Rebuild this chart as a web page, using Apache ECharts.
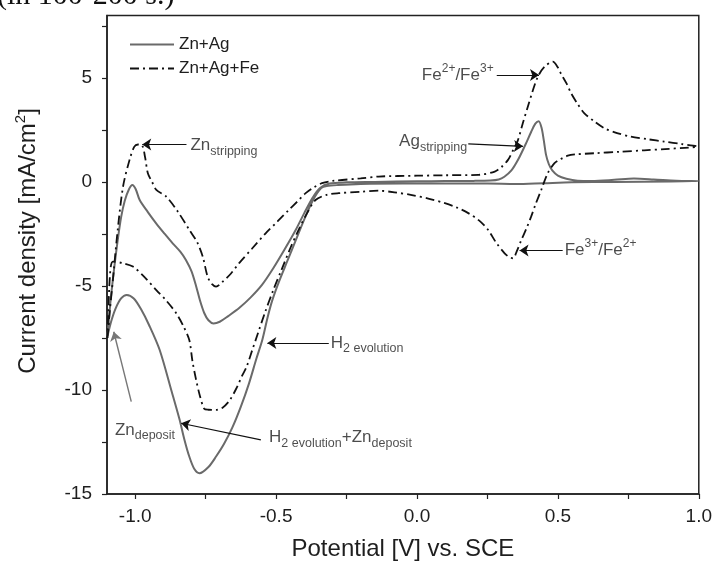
<!DOCTYPE html>
<html><head><meta charset="utf-8">
<script src="https://cdn.jsdelivr.net/npm/echarts@6/dist/echarts.min.js"></script>
<style>html,body{margin:0;padding:0;background:#fff}#c{width:715px;height:567px}</style>
</head><body><div id="c"></div>
<script>
const seriesNames = ['Zn+Ag', 'Zn+Ag+Fe'];

// Zn+Ag cyclic voltammogram (forward then return scan)
const potentialZnAg = [
  -1.098,-1.088,-1.075,-1.062,-1.05,-1.037,-1.022,-1.01,-0.998,-0.984,-0.955,-0.925,-0.895,-0.867,-0.84,-0.82,-0.80,-0.784,-0.77,-0.755,-0.74,-0.722,-0.70,-0.67,-0.63,-0.59,-0.55,-0.51,-0.47,-0.43,-0.40,-0.37,-0.345,-0.31,-0.25,-0.15,0.0,0.1,0.2,0.26,0.29,0.31,0.335,0.36,0.385,0.405,0.42,0.432,0.442,0.45,0.458,0.468,0.48,0.50,0.53,0.57,0.62,0.70,0.77,0.84,0.92,1.0,
  0.9,0.7,0.55,0.45,0.35,0.25,0.1,-0.05,-0.2,-0.28,-0.32,-0.34,-0.37,-0.40,-0.43,-0.46,-0.49,-0.513,-0.53,-0.549,-0.57,-0.596,-0.625,-0.655,-0.685,-0.713,-0.74,-0.772,-0.79,-0.808,-0.825,-0.843,-0.87,-0.913,-0.95,-0.98,-1.005,-1.03,-1.05,-1.07,-1.085,-1.098
];
const currentZnAg = [
  -7.4,-5.8,-4.2,-2.8,-1.7,-0.9,-0.35,-0.15,-0.35,-0.87,-1.45,-2.0,-2.5,-2.95,-3.35,-3.75,-4.3,-5.0,-5.7,-6.3,-6.65,-6.8,-6.72,-6.45,-6.05,-5.55,-4.95,-4.15,-3.25,-2.3,-1.5,-0.75,-0.3,-0.08,-0.02,0.0,0.03,0.04,0.05,0.07,0.12,0.25,0.55,1.1,1.8,2.4,2.8,2.92,2.6,2.0,1.3,0.85,0.55,0.3,0.15,0.06,0.05,0.1,0.16,0.12,0.06,0.04,
  0.02,0.0,-0.02,-0.06,-0.1,-0.08,-0.08,-0.08,-0.1,-0.15,-0.2,-0.3,-0.9,-1.8,-2.8,-3.8,-4.8,-5.67,-6.5,-7.6,-8.5,-9.68,-10.8,-11.8,-12.6,-13.2,-13.7,-14.0,-13.8,-13.2,-12.4,-11.4,-10.1,-8.08,-6.9,-6.1,-5.6,-5.43,-5.6,-6.1,-6.7,-7.4
];

// Zn+Ag+Fe cyclic voltammogram (forward then return scan)
const potentialZnAgFe = [
  -1.098,-1.09,-1.079,-1.062,-1.043,-1.02,-1.003,-0.99,-0.975,-0.965,-0.955,-0.94,-0.925,-0.89,-0.85,-0.808,-0.78,-0.76,-0.743,-0.728,-0.713,-0.69,-0.66,-0.631,-0.585,-0.537,-0.495,-0.455,-0.425,-0.395,-0.365,-0.337,-0.30,-0.2,-0.136,0.0,0.1,0.218,0.276,0.30,0.323,0.34,0.358,0.375,0.393,0.41,0.429,0.453,0.482,0.50,0.511,0.53,0.547,0.57,0.594,0.63,0.665,0.71,0.759,0.82,0.877,0.94,0.995,
  0.95,0.88,0.806,0.72,0.629,0.56,0.535,0.51,0.488,0.464,0.441,0.42,0.405,0.388,0.37,0.355,0.341,0.326,0.311,0.28,0.252,0.22,0.182,0.14,0.099,0.04,-0.018,-0.08,-0.136,-0.2,-0.278,-0.32,-0.36,-0.39,-0.42,-0.45,-0.48,-0.51,-0.54,-0.565,-0.585,-0.605,-0.62,-0.64,-0.665,-0.69,-0.713,-0.74,-0.755,-0.77,-0.784,-0.797,-0.808,-0.83,-0.855,-0.89,-0.925,-0.965,-1.008,-1.045,-1.079,-1.09,-1.098
];
const currentZnAgFe = [
  -7.5,-6.2,-4.7,-2.3,-0.22,1.06,1.7,1.8,1.75,1.2,0.42,0.0,-0.38,-0.7,-1.4,-2.3,-2.9,-3.6,-4.55,-4.9,-5.03,-4.8,-4.4,-3.9,-3.2,-2.47,-1.9,-1.35,-0.95,-0.54,-0.25,-0.06,0.05,0.17,0.26,0.3,0.32,0.34,0.5,0.72,1.06,1.5,2.0,2.8,3.6,4.35,5.06,5.54,5.78,5.5,5.2,4.75,4.26,3.75,3.3,2.9,2.58,2.35,2.18,2.05,1.94,1.82,1.7,
  1.64,1.58,1.52,1.45,1.38,1.32,1.26,1.1,0.9,0.42,-0.38,-1.1,-1.67,-2.25,-2.8,-3.3,-3.67,-3.6,-3.43,-2.9,-2.3,-1.85,-1.5,-1.22,-1.02,-0.8,-0.63,-0.5,-0.42,-0.47,-0.54,-0.62,-0.87,-1.5,-2.3,-3.2,-4.2,-5.2,-6.3,-7.3,-8.1,-8.9,-9.3,-9.9,-10.5,-10.85,-10.96,-10.95,-10.9,-10.3,-9.5,-8.6,-7.6,-6.9,-6.3,-5.7,-5.2,-4.6,-4.07,-3.9,-3.83,-4.6,-7.5
];

// Axis ticks and labels
const xTickValues = [-1.0,-0.75,-0.5,-0.25,0.0,0.25,0.5,0.75,1.0];
const xLabelValues = [-1.0,-0.5,0.0,0.5,1.0];
const yTickValues = [-15,-12.5,-10,-7.5,-5,-2.5,0,2.5,5,7.5];
const yLabelValues = [-15,-10,-5,0,5];

// Annotations (data coordinates): arrow from -> to, and text anchor
const annotationTexts = [
  '{m|Zn}{sub|stripping}',
  '{m|Fe}{sup|2+}{m|/Fe}{sup|3+}',
  '{m|Ag}{sub|stripping}',
  '{m|Fe}{sup|3+}{m|/Fe}{sup|2+}',
  '{m|H}{sub|2 evolution}',
  '{m|H}{sub|2 evolution}{m|+Zn}{sub|deposit}',
  '{m|Zn}{sub|deposit}'
];
const annotationTextAt = [[-0.804,1.75],[0.272,5.14],[0.178,1.94],[0.524,-3.30],[-0.306,-7.74],[-0.525,-12.27],[-1.072,-11.92]];
const annotationSide = ['right','left','left','right','right','right','right'];
const arrowFrom = [[-0.818,1.80],[0.283,5.14],[0.182,1.83],[0.517,-3.30],[-0.313,-7.74],[-0.554,-12.40]];
const arrowTo   = [[-0.975,1.80],[0.433,5.14],[0.376,1.71],[0.364,-3.30],[-0.531,-7.74],[-0.837,-11.60]];
const grayArrowFrom = [[-1.014,-10.56]];
const grayArrowTo = [[-1.076,-7.20]];

const FONT = 'Liberation Sans';
const TXT = '#1e1e1e';
const zip = (xs, ys) => xs.map((x, i) => [x, ys[i]]);

const chart = echarts.init(document.getElementById('c'), null, {renderer: 'canvas'});
const rich = {
  m: {fontSize: 17, lineHeight: 25, fontFamily: FONT, color: TXT},
  sub: {fontSize: 12.5, lineHeight: 12.5, verticalAlign: 'bottom', fontFamily: FONT, color: TXT},
  sup: {fontSize: 12, lineHeight: 12, verticalAlign: 'top', fontFamily: FONT, color: TXT}
};

chart.setOption({
  animation: false,
  backgroundColor: '#fff',
  grid: {left: 107, right: 13, top: 15.5, bottom: 73, show: true, borderColor: '#222', borderWidth: 1.5, backgroundColor: 'transparent'},
  legend: {
    data: seriesNames, orient: 'vertical', left: 124, top: 31, itemWidth: 44, itemHeight: 14, itemGap: 7,
    itemStyle: {opacity: 0},
    textStyle: {fontSize: 17, color: TXT, fontFamily: FONT}
  },
  xAxis: {
    type: 'value', min: -1.1, max: 1.0,
    axisLine: {onZero: false, lineStyle: {color: '#222', width: 1.5}},
    axisTick: {show: true, inside: false, length: 5, customValues: xTickValues, lineStyle: {color: '#222', width: 1.2}},
    axisLabel: {customValues: xLabelValues, formatter: v => v.toFixed(1), fontSize: 19, color: TXT, fontFamily: FONT, margin: 13},
    splitLine: {show: false},
    name: 'Potential [V] vs. SCE', nameLocation: 'middle', nameGap: 43,
    nameTextStyle: {fontSize: 24, color: TXT, fontFamily: FONT}
  },
  yAxis: {
    type: 'value', min: -15, max: 8,
    axisLine: {onZero: false, lineStyle: {color: '#222', width: 1.5}},
    axisTick: {show: true, inside: false, length: 5, customValues: yTickValues, lineStyle: {color: '#222', width: 1.2}},
    axisLabel: {customValues: yLabelValues, fontSize: 19, color: TXT, fontFamily: FONT, margin: 15},
    splitLine: {show: false}
  },
  graphic: [
    {type: 'text', x: 28, y: 241, rotation: Math.PI / 2, style: {
      text: '{t|Current density [mA/cm}{s|2}{t|]}', align: 'center', verticalAlign: 'middle',
      rich: {t: {fontSize: 24, fontFamily: FONT, fill: TXT, lineHeight: 30}, s: {fontSize: 15, fontFamily: FONT, fill: TXT, lineHeight: 15, verticalAlign: 'top'}}
    }},
    {type: 'text', x: -3, y: 11, style: {text: '(in 100-200 s.)', font: '30px "Liberation Serif"', fill: '#111', verticalAlign: 'bottom'}}
  ],
  series: [
    {name: seriesNames[0], type: 'line', data: zip(potentialZnAg, currentZnAg), smooth: 0.3, symbol: 'none', showSymbol: false,
      lineStyle: {color: '#6a6a6a', width: 2}, itemStyle: {color: '#6a6a6a'}, z: 3},
    {name: seriesNames[1], type: 'line', data: zip(potentialZnAgFe, currentZnAgFe), smooth: 0.3, symbol: 'none', showSymbol: false,
      lineStyle: {color: '#111', width: 1.8, type: [9, 4, 2, 4]}, itemStyle: {color: '#111'}, z: 4},
    {type: 'lines', coordinateSystem: 'cartesian2d', symbol: ['none', 'arrow'], symbolSize: 9,
      lineStyle: {color: '#111', width: 1.2, opacity: 1}, z: 5,
      data: arrowFrom.map((p, i) => ({coords: [p, arrowTo[i]]}))},
    {type: 'lines', coordinateSystem: 'cartesian2d', symbol: ['none', 'arrow'], symbolSize: 9,
      lineStyle: {color: '#777', width: 1.4, opacity: 1}, z: 5,
      data: grayArrowFrom.map((p, i) => ({coords: [p, grayArrowTo[i]]}))},
    {type: 'scatter', symbolSize: 0, silent: true, z: 6,
      data: annotationTextAt.map((p, i) => ({
        value: p,
        label: {show: true, position: annotationSide[i], distance: 0, formatter: annotationTexts[i], rich: rich}
      }))}
  ]
});
</script></body></html>
